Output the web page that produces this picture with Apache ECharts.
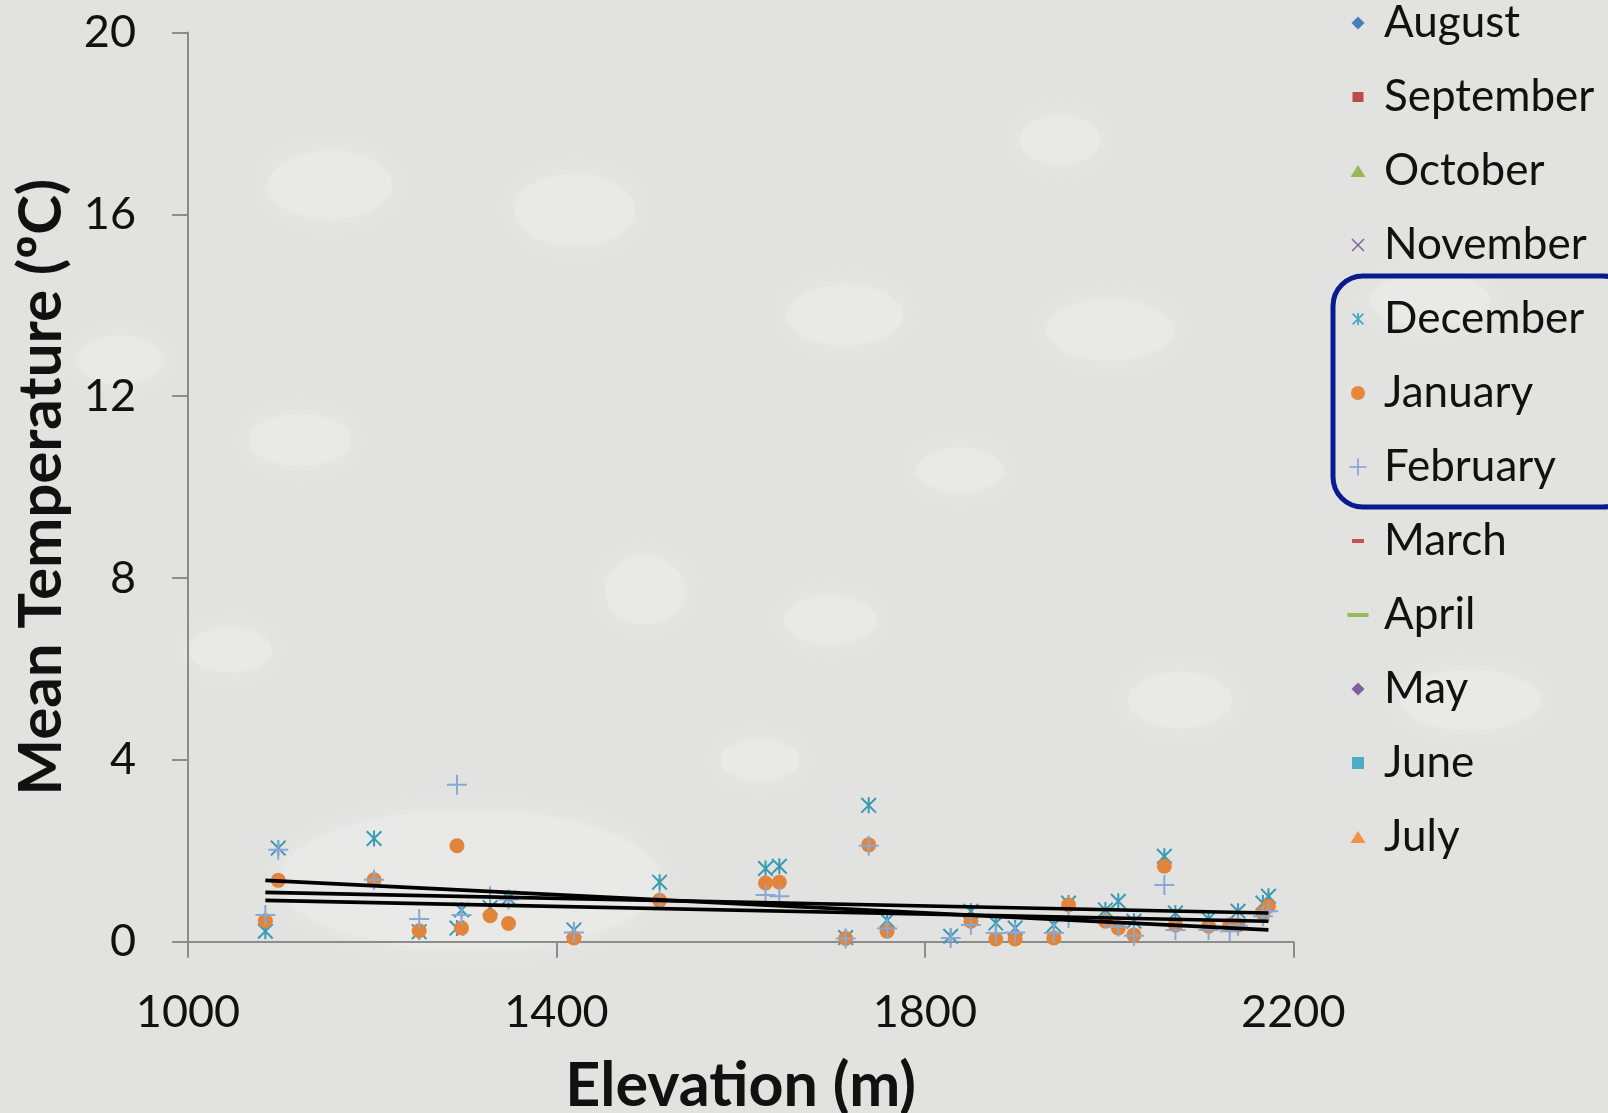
<!DOCTYPE html>
<html>
<head>
<meta charset="utf-8">
<script src="https://cdn.jsdelivr.net/npm/echarts@6/dist/echarts.min.js"></script>
<style>
  html, body { margin: 0; padding: 0; background: #e3e3e1; overflow: hidden; }
  #chart { width: 1608px; height: 1113px; }
</style>
</head>
<body>
<div id="chart"></div>
<script>
// Station elevations (m)
const elevation = [1084, 1098, 1202, 1251, 1292, 1297, 1328, 1348, 1419, 1512, 1627, 1642, 1714, 1739, 1759, 1828,
  1850, 1877, 1898, 1940, 1956, 1996, 2010, 2027, 2060, 2072, 2108, 2131, 2140, 2167, 2173];

// Monthly mean temperatures (°C) per station
const december = [0.23, 2.06, 2.27, 0.22, 0.30, 0.70, 0.75, 0.96, 0.26, 1.31, 1.61, 1.66, 0.09, 3.00, 0.47, 0.12,
  0.67, 0.41, 0.30, 0.37, 0.85, 0.70, 0.89, 0.45, 1.88, 0.63, 0.50, null, 0.67, 0.85, 1.00];
const january = [0.46, 1.35, 1.36, 0.24, 2.11, 0.30, 0.57, 0.40, 0.08, 0.91, 1.29, 1.31, 0.07, 2.13, 0.23, null,
  0.45, 0.06, 0.06, 0.08, 0.81, 0.45, 0.30, 0.15, 1.66, 0.37, 0.34, 0.37, 0.37, 0.63, 0.78];
const february = [0.59, 2.02, 1.36, 0.50, 3.45, 0.59, 1.00, 0.93, 0.20, 0.92, 1.03, 1.00, 0.07, 2.11, 0.29, 0.08,
  0.37, 0.19, 0.20, 0.19, 0.52, 0.52, 0.33, 0.13, 1.25, 0.26, 0.26, 0.23, 0.35, 0.56, 0.67];

// Linear trend lines: start/end elevation and fitted temperatures
const trendX = [1084, 2173];
const trendDecember = [1.085, 0.63];
const trendJanuary = [0.91, 0.45];
const trendFebruary = [1.35, 0.26];

// Axis ticks
const xTicks = [1000, 1400, 1800, 2200];
const yTicks = [0, 4, 8, 12, 16, 20];

const months = ['August', 'September', 'October', 'November', 'December', 'January',
  'February', 'March', 'April', 'May', 'June', 'July'];

// Legend icons, drawn inside a 42x42 box (the two leading moves fix the box)
const BOX = 'path://M0 0M42 42';
const legendIcons = {
  August:    { icon: BOX + 'M21 14.5L27.5 21L21 27.5L14.5 21Z', color: '#4a7ebb' },
  September: { icon: BOX + 'M15.5 16H26.5V26H15.5Z', color: '#be4b48' },
  October:   { icon: BOX + 'M21 15L28.5 27L13.5 27Z', color: '#98b954' },
  November:  { icon: BOX + 'M15.5 14.5L27.5 26.5L26.5 27.5L14.5 15.5Z M26.5 14.5L27.5 15.5L15.5 27.5L14.5 26.5Z', color: '#7d60a0' },
  December:  { icon: BOX + 'M20.1 15H21.9V27H20.1Z M15 16.3L16.3 15L27 25.7L25.7 27Z M25.7 15L27 16.3L16.3 27L15 25.7Z', color: '#46aac5' },
  January:   { icon: BOX + 'M14 21A7 7 0 1 1 28 21A7 7 0 1 1 14 21Z', color: '#e4873f' },
  February:  { icon: BOX + 'M12.5 20.2H29.5V21.8H12.5Z M20.2 12.5H21.8V29.5H20.2Z', color: '#7ea2d6' },
  March:     { icon: BOX + 'M15 19H27V23H15Z', color: '#c9504c' },
  April:     { icon: BOX + 'M10.5 19H31.5V23H10.5Z', color: '#98b954' },
  May:       { icon: BOX + 'M21 14.5L27.5 21L21 27.5L14.5 21Z', color: '#7d60a0' },
  June:      { icon: BOX + 'M15 15H27V27H15Z', color: '#4bacc6' },
  July:      { icon: BOX + 'M21 15L28.5 27L13.5 27Z', color: '#f0924b' }
};

// Plot markers
const starSymbol = 'path://M7 0H9V16H7Z M0 1.4L1.4 0L16 14.6L14.6 16Z M14.6 0L16 1.4L1.4 16L0 14.6Z';
const plusSymbol = 'path://M0 9H20V11H0Z M9 0H11V20H9Z';

function pairs(xs, ys) {
  const out = [];
  xs.forEach((x, i) => { if (ys[i] !== null && ys[i] !== undefined) out.push([x, ys[i]]); });
  return out;
}

const markerSeries = {
  December: { symbol: starSymbol, symbolSize: 16, color: '#3a9ab4', data: pairs(elevation, december) },
  January:  { symbol: 'circle', symbolSize: 15, color: '#e2853b', data: pairs(elevation, january) },
  February: { symbol: plusSymbol, symbolSize: 20, color: '#8aa8d6', data: pairs(elevation, february) }
};

const series = months.map(name => {
  const m = markerSeries[name];
  return {
    name: name,
    type: 'scatter',
    symbol: m ? m.symbol : 'circle',
    symbolSize: m ? m.symbolSize : 10,
    itemStyle: { color: m ? m.color : legendIcons[name].color, opacity: 1 },
    data: m ? m.data : [],
    z: 2,
    silent: true
  };
});

[trendDecember, trendJanuary, trendFebruary].forEach((t, i) => {
  series.push({
    name: 'trend' + i,
    type: 'line',
    data: pairs(trendX, t),
    showSymbol: false,
    symbol: 'none',
    lineStyle: { color: '#000', width: 3.6 },
    z: 5,
    silent: true
  });
});

// Soft pebble shapes of the stone backdrop
const pebbles = [
  [330, 185, 62, 34], [575, 210, 60, 36], [845, 315, 58, 30], [1110, 330, 64, 30],
  [300, 440, 50, 26], [645, 590, 40, 34], [830, 620, 46, 24], [1060, 140, 40, 24],
  [470, 880, 190, 70], [1180, 700, 52, 28], [960, 470, 44, 22], [120, 360, 44, 24],
  [1430, 300, 60, 26], [1470, 700, 70, 30], [760, 760, 40, 20], [230, 650, 42, 22]
];
const backdrop = pebbles.map(p => ({
  type: 'ellipse',
  shape: { cx: p[0], cy: p[1], rx: p[2], ry: p[3] },
  style: { fill: '#e9e9e7', shadowBlur: 26, shadowColor: '#e9e9e7' },
  z: -10,
  silent: true
}));

const axisColor = '#8c8c8c';
const chart = echarts.init(document.getElementById('chart'), null, { renderer: 'canvas' });
chart.setOption({
  backgroundColor: '#e2e2e0',
  animation: false,
  grid: { left: 188, width: 1105.3, top: 32.5, height: 909.2, containLabel: false, outerBoundsMode: 'none' },
  xAxis: {
    type: 'value',
    min: xTicks[0], max: xTicks[xTicks.length - 1], interval: 400,
    splitLine: { show: false },
    axisLine: { lineStyle: { color: axisColor, width: 2 } },
    axisTick: { length: 16, lineStyle: { color: axisColor, width: 2 } },
    axisLabel: { fontFamily: 'Lato', fontSize: 45, lineHeight: 45, color: '#111', margin: 48,
      formatter: v => String(v) },
    name: 'Elevation (m)',
    nameLocation: 'middle',
    nameGap: 114,
    nameTextStyle: { fontFamily: 'Lato', fontWeight: 'bold', fontSize: 61, lineHeight: 61, color: '#111' }
  },
  yAxis: {
    type: 'value',
    min: yTicks[0], max: yTicks[yTicks.length - 1], interval: 4,
    splitLine: { show: false },
    axisLine: { lineStyle: { color: axisColor, width: 2 } },
    axisTick: { length: 16, lineStyle: { color: axisColor, width: 2 } },
    axisLabel: { fontFamily: 'Lato', fontSize: 45, lineHeight: 45, color: '#111', margin: 52,
      formatter: v => String(v) },
    name: 'Mean Temperature (ºC)',
    nameLocation: 'middle',
    nameGap: 116,
    nameTextStyle: { fontFamily: 'Lato', fontWeight: 'bold', fontSize: 60, lineHeight: 60, color: '#111' }
  },
  legend: {
    orient: 'vertical',
    left: 1337,
    top: 1,
    padding: 0,
    itemWidth: 42,
    itemHeight: 42,
    itemGap: 30,
    selectedMode: false,
    textStyle: { fontFamily: 'Lato', fontSize: 44, lineHeight: 44, color: '#111' },
    data: months.map(name => ({
      name: name,
      icon: legendIcons[name].icon,
      itemStyle: { color: legendIcons[name].color }
    }))
  },
  graphic: backdrop.concat([{
    type: 'rect',
    shape: { x: 1333, y: 276, width: 300, height: 231, r: 30 },
    style: { fill: 'none', stroke: '#0a1a8f', lineWidth: 5 },
    z: 10,
    silent: true
  }]),
  series: series
});
</script>
</body>
</html>
